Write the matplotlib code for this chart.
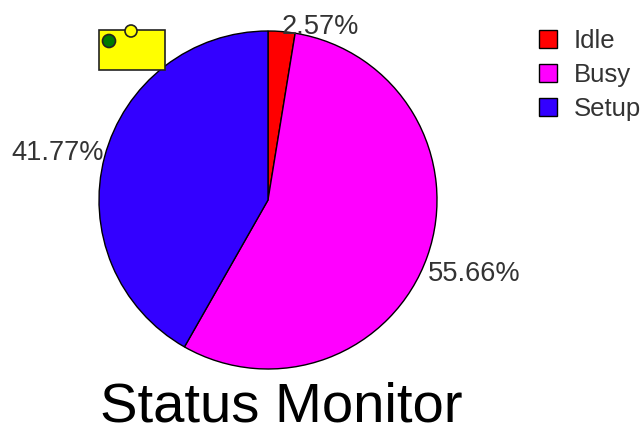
import matplotlib
matplotlib.use("Agg")
import matplotlib.pyplot as plt
from matplotlib.patches import Rectangle, Circle

# valores do monitor de status
estados = ["Idle", "Busy", "Setup"]
percentuais = [2.57, 55.66, 41.77]
cores = ["#ff0000", "#ff00ff", "#3300ff"]
rotulos = ["2.57%", "55.66%", "41.77%"]

plt.rcParams["font.family"] = ["Liberation Sans", "DejaVu Sans"]

fig = plt.figure(figsize=(6.43, 4.25), dpi=100)
ax = fig.add_axes([0, 0, 1, 1])

# pizza desenhada em coordenadas de pixel
fatias, _ = ax.pie(percentuais, colors=cores, startangle=90, counterclock=False,
                   center=(268, 225), radius=169,
                   wedgeprops={"edgecolor": "black", "linewidth": 1.0})
ax.set_xlim(0, 643)
ax.set_ylim(0, 425)
ax.set_aspect("equal")
ax.axis("off")

# rotulos das fatias
ax.text(320, 398, rotulos[0], fontsize=19.6, ha="center", va="center", color="#333333")
ax.text(474, 151, rotulos[1], fontsize=19.6, ha="center", va="center", color="#333333")
ax.text(58, 272, rotulos[2], fontsize=19.6, ha="center", va="center", color="#333333")

ax.text(281, 3.5, "Status Monitor", fontsize=40.5, ha="center", va="baseline", color="black")

# icone amarelo no canto
ax.add_patch(Rectangle((99, 355), 66, 40, facecolor="#ffff00", edgecolor="#222222", linewidth=1.2, zorder=5))
ax.add_patch(Circle((131, 394), 6, facecolor="#ffff00", edgecolor="#222222", linewidth=1.2, zorder=6))
ax.add_patch(Circle((109, 384), 6.5, facecolor="#007a00", edgecolor="#222222", linewidth=1.2, zorder=6))

leg = ax.legend(fatias, estados, loc="upper left", bbox_to_anchor=(539, 396),
                bbox_transform=ax.transData, frameon=False, fontsize=18.5,
                borderpad=0, borderaxespad=0, handlelength=0.7, handleheight=0.7,
                handletextpad=0.66, labelspacing=0.38, labelcolor="#333333")

fig.savefig("out.png", dpi=100)
